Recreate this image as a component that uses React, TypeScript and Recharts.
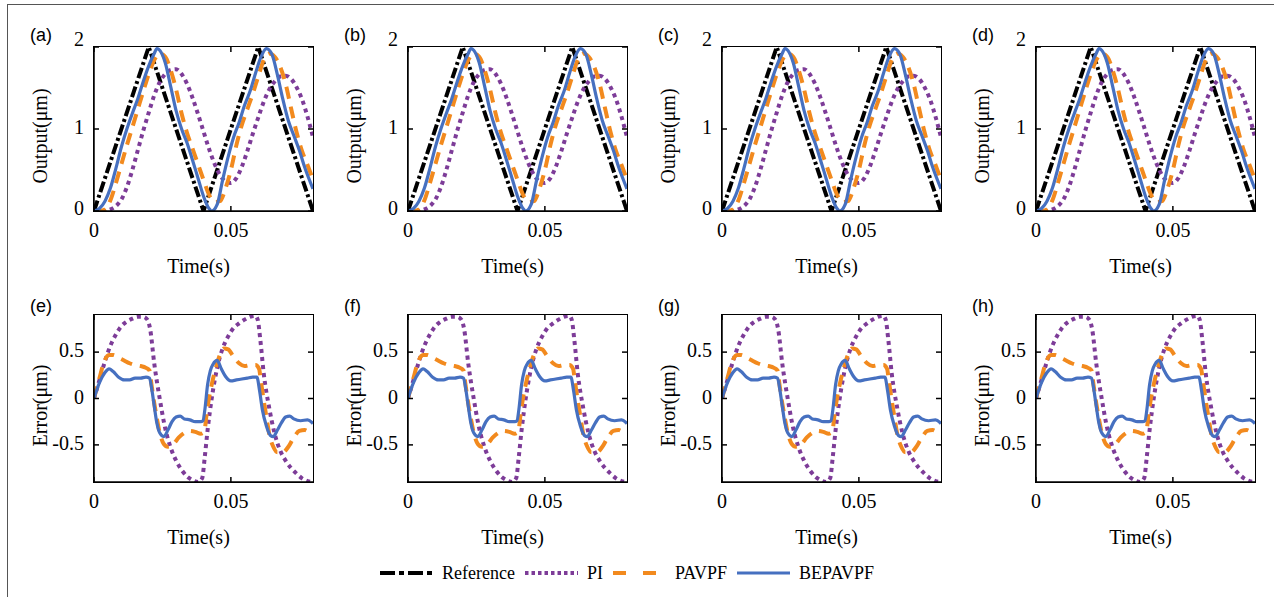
import React from "react";
import { LineChart, Line, XAxis, YAxis } from "recharts";

type Pt = [number, number];

// ---- output (top row), [time s, µm] ----
const REF_OUT: Pt[] = [[0, 0], [0.02, 2], [0.04, 0], [0.06, 2], [0.08, 0]];

const PI_OUT: Pt[] = [
  [0, 0], [0.003, 0], [0.006, 0.02], [0.008, 0.06], [0.01, 0.14], [0.012, 0.29], [0.014, 0.5],
  [0.016, 0.74], [0.018, 0.98], [0.02, 1.2], [0.022, 1.41], [0.024, 1.57], [0.026, 1.67],
  [0.028, 1.72], [0.03, 1.73], [0.032, 1.67], [0.034, 1.55], [0.036, 1.38], [0.038, 1.18],
  [0.04, 0.97], [0.042, 0.76], [0.044, 0.58], [0.046, 0.44], [0.048, 0.36], [0.05, 0.34],
  [0.052, 0.4], [0.054, 0.54], [0.056, 0.73], [0.058, 0.94], [0.06, 1.14], [0.062, 1.33],
  [0.064, 1.48], [0.066, 1.58], [0.068, 1.64], [0.07, 1.65], [0.072, 1.61], [0.074, 1.51],
  [0.076, 1.36], [0.078, 1.15], [0.08, 0.9],
];

const PAVPF_OUT: Pt[] = [
  [0, 0], [0.002, 0], [0.004, 0.02], [0.006, 0.13], [0.008, 0.34], [0.01, 0.57], [0.012, 0.8],
  [0.014, 1.02], [0.016, 1.24], [0.018, 1.46], [0.02, 1.67], [0.022, 1.84], [0.024, 1.92],
  [0.026, 1.88], [0.028, 1.72], [0.03, 1.48], [0.032, 1.19], [0.034, 0.95], [0.036, 0.76],
  [0.038, 0.57], [0.04, 0.38], [0.042, 0.2], [0.044, 0.11], [0.046, 0.12], [0.048, 0.27],
  [0.05, 0.5], [0.052, 0.8], [0.054, 1.05], [0.056, 1.24], [0.058, 1.43], [0.06, 1.64],
  [0.062, 1.84], [0.064, 1.92], [0.066, 1.88], [0.068, 1.76], [0.07, 1.55], [0.072, 1.25],
  [0.074, 0.96], [0.076, 0.73], [0.078, 0.56], [0.08, 0.38],
];

const BEP_OUT: Pt[] = [
  [0, 0], [0.002, 0.03], [0.004, 0.12], [0.006, 0.28], [0.008, 0.52], [0.01, 0.78], [0.012, 1.0],
  [0.014, 1.19], [0.016, 1.37], [0.018, 1.58], [0.02, 1.77], [0.022, 1.92], [0.023, 1.98],
  [0.024, 1.96], [0.026, 1.81], [0.028, 1.52], [0.03, 1.22], [0.032, 1.0], [0.034, 0.83],
  [0.036, 0.62], [0.038, 0.4], [0.04, 0.18], [0.042, 0.03], [0.043, 0], [0.045, 0.08],
  [0.047, 0.38], [0.049, 0.66], [0.051, 0.9], [0.053, 1.08], [0.055, 1.29], [0.057, 1.46],
  [0.059, 1.68], [0.061, 1.88], [0.063, 1.98], [0.065, 1.91], [0.067, 1.66], [0.069, 1.36],
  [0.071, 1.1], [0.073, 0.92], [0.075, 0.74], [0.077, 0.53], [0.08, 0.27],
];

// ---- tracking error (bottom row), [time s, µm] ----
const PI_ERR: Pt[] = [
  [0, 0], [0.002, 0.2], [0.004, 0.4], [0.006, 0.57], [0.008, 0.69], [0.01, 0.78], [0.012, 0.83],
  [0.014, 0.86], [0.016, 0.88], [0.018, 0.88], [0.0195, 0.85], [0.0205, 0.75], [0.022, 0.38],
  [0.024, 0], [0.026, -0.32], [0.028, -0.53], [0.03, -0.67], [0.032, -0.77], [0.034, -0.84],
  [0.036, -0.88], [0.038, -0.9], [0.0395, -0.86], [0.0405, -0.62], [0.0415, -0.34], [0.043, 0.0],
  [0.045, 0.33], [0.047, 0.54], [0.049, 0.67], [0.051, 0.76], [0.053, 0.81], [0.055, 0.85],
  [0.057, 0.88], [0.059, 0.89], [0.0598, 0.85], [0.0608, 0.62], [0.062, 0.27], [0.064, -0.1],
  [0.066, -0.38], [0.068, -0.56], [0.07, -0.67], [0.072, -0.75], [0.074, -0.81], [0.076, -0.86],
  [0.078, -0.89], [0.08, -0.9],
];

const PAVPF_ERR: Pt[] = [
  [0, 0], [0.002, 0.22], [0.0035, 0.38], [0.0055, 0.47], [0.007, 0.47], [0.009, 0.44],
  [0.011, 0.41], [0.013, 0.38], [0.015, 0.36], [0.017, 0.35], [0.019, 0.33], [0.0203, 0.3],
  [0.021, 0.15], [0.022, -0.05], [0.023, -0.22], [0.024, -0.37], [0.0255, -0.49], [0.027, -0.52],
  [0.029, -0.49], [0.031, -0.42], [0.033, -0.37], [0.035, -0.35], [0.037, -0.36], [0.039, -0.38],
  [0.0403, -0.36], [0.041, -0.2], [0.042, 0], [0.043, 0.15], [0.0445, 0.33], [0.046, 0.47],
  [0.0475, 0.54], [0.049, 0.53], [0.051, 0.45], [0.053, 0.38], [0.055, 0.35], [0.057, 0.36],
  [0.059, 0.36], [0.0603, 0.32], [0.061, 0.18], [0.062, -0.02], [0.063, -0.2], [0.064, -0.38],
  [0.0655, -0.52], [0.067, -0.58], [0.069, -0.58], [0.071, -0.52], [0.073, -0.42], [0.075, -0.35],
  [0.077, -0.34], [0.079, -0.37], [0.08, -0.38],
];

const BEP_ERR: Pt[] = [
  [0, 0], [0.002, 0.17], [0.004, 0.28], [0.0055, 0.32], [0.007, 0.29], [0.009, 0.23],
  [0.011, 0.2], [0.013, 0.2], [0.015, 0.22], [0.017, 0.22], [0.019, 0.23], [0.0203, 0.22],
  [0.021, 0.12], [0.022, -0.08], [0.023, -0.27], [0.024, -0.37], [0.0255, -0.41], [0.027, -0.34],
  [0.0285, -0.25], [0.03, -0.2], [0.0315, -0.19], [0.033, -0.22], [0.035, -0.23], [0.037, -0.25],
  [0.039, -0.25], [0.0398, -0.24], [0.0405, -0.12], [0.0415, 0.15], [0.0425, 0.3], [0.0435, 0.37],
  [0.045, 0.41], [0.0465, 0.32], [0.048, 0.24], [0.05, 0.19], [0.052, 0.2], [0.054, 0.21],
  [0.056, 0.22], [0.058, 0.23], [0.0595, 0.23], [0.0605, 0.08], [0.0615, -0.12], [0.063, -0.3],
  [0.0645, -0.4], [0.0655, -0.41], [0.067, -0.34], [0.0685, -0.26], [0.07, -0.2], [0.0715, -0.19],
  [0.073, -0.22], [0.0755, -0.24], [0.078, -0.23], [0.08, -0.27],
];

const X_DOMAIN: [number, number] = [0, 0.08];
const X_TICKS = [0, 0.05];
const OUT_TICKS = [0, 1, 2];
const ERR_TICKS = [-0.5, 0, 0.5];
const TOP_LETTERS = ["(a)", "(b)", "(c)", "(d)"];
const BOTTOM_LETTERS = ["(e)", "(f)", "(g)", "(h)"];

const SERIF = '"Liberation Serif", "Times New Roman", serif';
const SANS = '"Liberation Sans", Arial, sans-serif';

const BLACK = "#000000";
const PURPLE = "#7D3C98";
const ORANGE = "#F28A1E";
const BLUE = "#4670C0";

const STYLES = [
  { name: "Reference", color: BLACK, dash: "11 3 3 3", width: 4, legendDash: "15 4 5 4" },
  { name: "PI", color: PURPLE, dash: "4 4", width: 4, legendDash: "3.5 3" },
  { name: "PAVPF", color: ORANGE, dash: "12 8", width: 4, legendDash: "13 17" },
  { name: "BEPAVPF", color: BLUE, dash: undefined as string | undefined, width: 3.2, legendDash: undefined as string | undefined },
];

const toRows = (pts: Pt[]) => pts.map(([t, v]) => ({ t, v }));

const OUT_SETS = [REF_OUT, PI_OUT, PAVPF_OUT, BEP_OUT].map(toRows);
const ERR_SETS = [null, PI_ERR, PAVPF_ERR, BEP_ERR].map((s) => (s ? toRows(s) : null));

// plot-box geometry
const COLS = [94, 408, 722, 1036];
const PLOT_W = 219;
const YW = 70;
const MT = 30;
const MR = 10;
const XH = 70;
const TICK = 5;
const AX = { stroke: "#000", strokeWidth: 1.5 };

type Row = { t: number; v: number };

type PanelProps = {
  left: number;
  top: number;
  plotH: number;
  letter: string;
  letterDy: number;
  yTitle: string;
  yDomain: [number, number];
  yTicks: number[];
  sets: (Row[] | null)[];
  top2?: boolean;
};

function Panel({ left, top, plotH, letter, letterDy, yTitle, yDomain, yTicks, sets, top2 }: PanelProps) {
  const w = YW + PLOT_W + MR;
  const h = MT + plotH + XH;
  const right = YW + PLOT_W;
  const txt = { fill: "#000", fontSize: 20, fontFamily: SERIF };

  // x tick: label under the axis + mirrored inward tick on the top edge
  const xTick = (p: any) => (
    <g>
      <text x={p.x} y={p.y} dy="0.71em" textAnchor="middle" {...txt}>
        {String(p.payload.value)}
      </text>
      <line x1={p.x} y1={MT} x2={p.x} y2={MT + TICK} {...AX} />
    </g>
  );

  // y tick: label left of the axis + mirrored inward tick on the right edge
  const yTick = (p: any) => {
    const v = p.payload.value;
    let dy = -2;
    if (top2 && v === 2) dy = -8;
    if (top2 && v === 0) dy = -3;
    return (
      <g>
        <text x={p.x} y={p.y} dy={dy} textAnchor="end" dominantBaseline="central" {...txt}>
          {String(v)}
        </text>
        <line x1={right - TICK} y1={p.y} x2={right} y2={p.y} {...AX} />
      </g>
    );
  };

  return (
    <div style={{ position: "absolute", left: left - YW, top: top - MT, width: w, height: h }}>
      <LineChart width={w} height={h} margin={{ top: MT, right: MR, left: 0, bottom: 0 }}>
        <XAxis
          dataKey="t" type="number" domain={X_DOMAIN} ticks={X_TICKS} allowDataOverflow
          height={XH} tickSize={-TICK} tickMargin={17}
          axisLine={AX} tickLine={AX}
          tick={xTick}
          label={() => (
            <text x={YW + PLOT_W / 2 - 5} y={MT + plotH + 55} textAnchor="middle" dominantBaseline="central" {...txt}>
              Time(s)
            </text>
          )}
        />
        <YAxis
          type="number" domain={yDomain} ticks={yTicks} allowDataOverflow
          width={YW} tickSize={-TICK} tickMargin={15}
          axisLine={AX} tickLine={AX}
          tick={yTick}
          label={() => (
            <g>
              <text x={6} y={MT + letterDy} dominantBaseline="central" fill="#000" fontSize={18} fontFamily={SANS}>
                {letter}
              </text>
              <text
                x={16} y={MT + plotH / 2 + 7} textAnchor="middle" dominantBaseline="central"
                transform={`rotate(-90, 16, ${MT + plotH / 2 + 7})`} {...txt}
              >
                {yTitle}
              </text>
            </g>
          )}
        />
        {sets.map((d, i) =>
          d ? (
            <Line
              key={STYLES[i].name}
              data={d}
              dataKey="v"
              type={i === 0 ? "linear" : "monotone"}
              stroke={STYLES[i].color}
              strokeWidth={STYLES[i].width}
              strokeDasharray={STYLES[i].dash}
              dot={false}
              activeDot={false}
              isAnimationActive={false}
            />
          ) : null
        )}
      </LineChart>
      {/* axes box drawn over the plot area */}
      <div
        style={{
          position: "absolute", left: YW - 0.75, top: MT - 0.75, width: PLOT_W + 1.5, height: plotH + 1.5,
          border: "1.5px solid #000", boxSizing: "border-box", pointerEvents: "none",
        }}
      />
    </div>
  );
}

export default function App() {
  return (
    <div style={{ position: "absolute", left: 0, top: 0, width: 1274, height: 597, background: "#fff", overflow: "hidden" }}>
      {/* outer frame (only top and left edges are visible) */}
      <div style={{ position: "absolute", left: 7, top: 4, width: 1300, height: 700, borderTop: "1.5px solid #555", borderLeft: "1.5px solid #555" }} />

      {COLS.map((x, i) => (
        <Panel
          key={"o" + i} left={x} top={47} plotH={164} letter={TOP_LETTERS[i]} letterDy={-12}
          yTitle="Output(μm)" yDomain={[0, 2]} yTicks={OUT_TICKS} sets={OUT_SETS} top2
        />
      ))}
      {COLS.map((x, i) => (
        <Panel
          key={"e" + i} left={x} top={315} plotH={167} letter={BOTTOM_LETTERS[i]} letterDy={-9}
          yTitle="Error(μm)" yDomain={[-0.9, 0.9]} yTicks={ERR_TICKS} sets={ERR_SETS}
        />
      ))}

      {/* legend */}
      <div style={{ position: "absolute", left: 380, top: 560, height: 26, display: "flex", alignItems: "center", fontFamily: SERIF, fontSize: 18, color: "#000" }}>
        {STYLES.map((s) => (
          <div key={s.name} style={{ display: "flex", alignItems: "center", marginRight: 10 }}>
            <svg width={53} height={10}>
              <line x1={0} y1={5} x2={53} y2={5} stroke={s.color} strokeWidth={s.name === "BEPAVPF" ? 3 : 4} strokeDasharray={s.legendDash} />
            </svg>
            <span style={{ marginLeft: 9 }}>{s.name}</span>
          </div>
        ))}
      </div>
    </div>
  );
}
